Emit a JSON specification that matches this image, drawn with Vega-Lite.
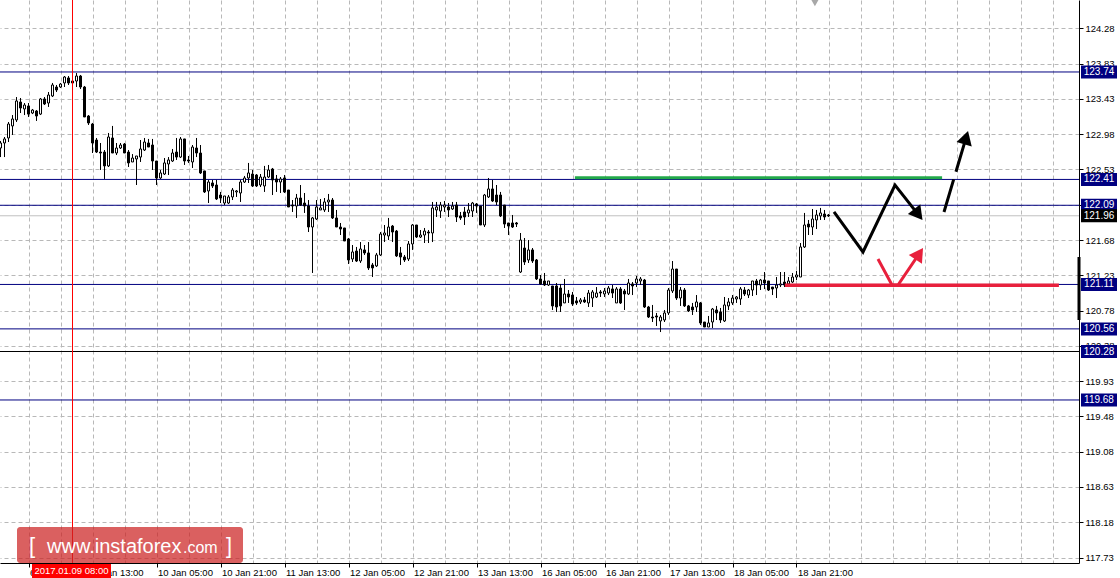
{
"$schema":"https://vega.github.io/schema/vega-lite/v6.json",
"width":1079,"height":563,
"autosize":{"type":"none"},
"padding":{"left":0,"top":0,"right":41,"bottom":15},
"background":"white",
"config":{"font":"Liberation Sans","view":{"stroke":null},"scale":{"continuousPadding":0}},
"datasets":{
"one":[{}],
"candles":[
{"i":0,"o":122.799,"h":122.886,"l":122.687,"c":122.861},
{"i":1,"o":122.861,"h":122.935,"l":122.687,"c":122.911},
{"i":2,"o":122.923,"h":123.121,"l":122.873,"c":123.096},
{"i":3,"o":123.072,"h":123.207,"l":122.960,"c":123.158},
{"i":4,"o":123.146,"h":123.430,"l":123.121,"c":123.381},
{"i":5,"o":123.368,"h":123.418,"l":123.232,"c":123.294},
{"i":6,"o":123.282,"h":123.356,"l":123.207,"c":123.331},
{"i":7,"o":123.319,"h":123.356,"l":123.183,"c":123.219},
{"i":8,"o":123.232,"h":123.282,"l":123.219,"c":123.269},
{"i":9,"o":123.257,"h":123.269,"l":123.134,"c":123.195},
{"i":10,"o":123.219,"h":123.418,"l":123.207,"c":123.406},
{"i":11,"o":123.406,"h":123.430,"l":123.331,"c":123.344},
{"i":12,"o":123.356,"h":123.492,"l":123.307,"c":123.455},
{"i":13,"o":123.443,"h":123.604,"l":123.430,"c":123.579},
{"i":14,"o":123.554,"h":123.579,"l":123.492,"c":123.517},
{"i":15,"o":123.554,"h":123.604,"l":123.542,"c":123.591},
{"i":16,"o":123.604,"h":123.690,"l":123.554,"c":123.678},
{"i":17,"o":123.666,"h":123.690,"l":123.579,"c":123.604},
{"i":18,"o":123.628,"h":123.641,"l":123.591,"c":123.604},
{"i":19,"o":123.628,"h":123.727,"l":123.554,"c":123.690},
{"i":20,"o":123.690,"h":123.703,"l":123.529,"c":123.554},
{"i":21,"o":123.554,"h":123.567,"l":123.183,"c":123.183},
{"i":22,"o":123.195,"h":123.207,"l":123.084,"c":123.109},
{"i":23,"o":123.096,"h":123.109,"l":122.737,"c":122.861},
{"i":24,"o":122.898,"h":122.923,"l":122.737,"c":122.749},
{"i":25,"o":122.749,"h":122.861,"l":122.527,"c":122.737},
{"i":26,"o":122.749,"h":122.774,"l":122.416,"c":122.577},
{"i":27,"o":122.577,"h":122.985,"l":122.564,"c":122.935},
{"i":28,"o":122.923,"h":123.072,"l":122.737,"c":122.737},
{"i":29,"o":122.737,"h":122.861,"l":122.712,"c":122.799},
{"i":30,"o":122.799,"h":122.861,"l":122.787,"c":122.836},
{"i":31,"o":122.848,"h":122.861,"l":122.737,"c":122.737},
{"i":32,"o":122.749,"h":122.774,"l":122.564,"c":122.614},
{"i":33,"o":122.626,"h":122.724,"l":122.626,"c":122.675},
{"i":34,"o":122.663,"h":122.700,"l":122.341,"c":122.700},
{"i":35,"o":122.687,"h":122.898,"l":122.626,"c":122.787},
{"i":36,"o":122.774,"h":122.923,"l":122.762,"c":122.873},
{"i":37,"o":122.861,"h":122.911,"l":122.811,"c":122.811},
{"i":38,"o":122.836,"h":122.911,"l":122.527,"c":122.638},
{"i":39,"o":122.638,"h":122.638,"l":122.341,"c":122.428},
{"i":40,"o":122.428,"h":122.527,"l":122.416,"c":122.490},
{"i":41,"o":122.477,"h":122.675,"l":122.465,"c":122.614},
{"i":42,"o":122.601,"h":122.687,"l":122.465,"c":122.651},
{"i":43,"o":122.638,"h":122.787,"l":122.626,"c":122.737},
{"i":44,"o":122.749,"h":122.923,"l":122.651,"c":122.687},
{"i":45,"o":122.687,"h":122.935,"l":122.675,"c":122.911},
{"i":46,"o":122.911,"h":122.911,"l":122.589,"c":122.638},
{"i":47,"o":122.651,"h":122.700,"l":122.614,"c":122.638},
{"i":48,"o":122.626,"h":122.836,"l":122.552,"c":122.811},
{"i":49,"o":122.799,"h":122.923,"l":122.687,"c":122.737},
{"i":50,"o":122.737,"h":122.836,"l":122.477,"c":122.490},
{"i":51,"o":122.515,"h":122.515,"l":122.242,"c":122.255},
{"i":52,"o":122.267,"h":122.403,"l":122.118,"c":122.378},
{"i":53,"o":122.366,"h":122.403,"l":122.304,"c":122.329},
{"i":54,"o":122.341,"h":122.403,"l":122.155,"c":122.168},
{"i":55,"o":122.217,"h":122.255,"l":122.118,"c":122.180},
{"i":56,"o":122.118,"h":122.205,"l":122.093,"c":122.205},
{"i":57,"o":122.118,"h":122.217,"l":122.106,"c":122.193},
{"i":58,"o":122.193,"h":122.304,"l":122.155,"c":122.279},
{"i":59,"o":122.255,"h":122.279,"l":122.193,"c":122.267},
{"i":60,"o":122.242,"h":122.403,"l":122.131,"c":122.378},
{"i":61,"o":122.378,"h":122.453,"l":122.366,"c":122.428},
{"i":62,"o":122.428,"h":122.614,"l":122.366,"c":122.490},
{"i":63,"o":122.477,"h":122.527,"l":122.316,"c":122.329},
{"i":64,"o":122.465,"h":122.477,"l":122.316,"c":122.329},
{"i":65,"o":122.341,"h":122.477,"l":122.316,"c":122.440},
{"i":66,"o":122.329,"h":122.577,"l":122.255,"c":122.440},
{"i":67,"o":122.440,"h":122.589,"l":122.428,"c":122.527},
{"i":68,"o":122.539,"h":122.552,"l":122.217,"c":122.403},
{"i":69,"o":122.416,"h":122.465,"l":122.255,"c":122.378},
{"i":70,"o":122.378,"h":122.440,"l":122.242,"c":122.416},
{"i":71,"o":122.428,"h":122.465,"l":122.242,"c":122.255},
{"i":72,"o":122.279,"h":122.279,"l":122.069,"c":122.069},
{"i":73,"o":122.093,"h":122.155,"l":122.007,"c":122.081},
{"i":74,"o":122.081,"h":122.230,"l":121.933,"c":122.180},
{"i":75,"o":122.180,"h":122.341,"l":122.081,"c":122.093},
{"i":76,"o":122.118,"h":122.242,"l":121.995,"c":122.081},
{"i":77,"o":122.081,"h":122.155,"l":121.759,"c":121.821},
{"i":78,"o":121.821,"h":121.945,"l":121.252,"c":121.933},
{"i":79,"o":121.920,"h":122.155,"l":121.908,"c":122.069},
{"i":80,"o":122.032,"h":122.168,"l":122.032,"c":122.057},
{"i":81,"o":122.032,"h":122.180,"l":122.007,"c":122.131},
{"i":82,"o":122.131,"h":122.230,"l":122.007,"c":122.155},
{"i":83,"o":122.155,"h":122.180,"l":121.920,"c":121.933},
{"i":84,"o":121.933,"h":122.032,"l":121.821,"c":121.821},
{"i":85,"o":121.821,"h":121.871,"l":121.722,"c":121.796},
{"i":86,"o":121.809,"h":121.809,"l":121.648,"c":121.648},
{"i":87,"o":121.673,"h":121.685,"l":121.363,"c":121.413},
{"i":88,"o":121.425,"h":121.598,"l":121.388,"c":121.512},
{"i":89,"o":121.524,"h":121.574,"l":121.388,"c":121.400},
{"i":90,"o":121.400,"h":121.635,"l":121.376,"c":121.549},
{"i":91,"o":121.537,"h":121.598,"l":121.475,"c":121.500},
{"i":92,"o":121.500,"h":121.635,"l":121.289,"c":121.314},
{"i":93,"o":121.351,"h":121.376,"l":121.202,"c":121.314},
{"i":94,"o":121.339,"h":121.500,"l":121.326,"c":121.475},
{"i":95,"o":121.475,"h":121.759,"l":121.463,"c":121.734},
{"i":96,"o":121.722,"h":121.846,"l":121.635,"c":121.747},
{"i":97,"o":121.710,"h":121.933,"l":121.660,"c":121.821},
{"i":98,"o":121.833,"h":121.846,"l":121.635,"c":121.759},
{"i":99,"o":121.771,"h":121.784,"l":121.450,"c":121.463},
{"i":100,"o":121.500,"h":121.574,"l":121.351,"c":121.450},
{"i":101,"o":121.450,"h":121.475,"l":121.388,"c":121.413},
{"i":102,"o":121.425,"h":121.648,"l":121.400,"c":121.611},
{"i":103,"o":121.611,"h":121.858,"l":121.537,"c":121.846},
{"i":104,"o":121.846,"h":121.846,"l":121.685,"c":121.697},
{"i":105,"o":121.697,"h":121.784,"l":121.685,"c":121.722},
{"i":106,"o":121.722,"h":121.809,"l":121.623,"c":121.771},
{"i":107,"o":121.759,"h":121.784,"l":121.623,"c":121.747},
{"i":108,"o":121.747,"h":122.131,"l":121.635,"c":122.057},
{"i":109,"o":122.032,"h":122.131,"l":121.945,"c":122.069},
{"i":110,"o":122.019,"h":122.131,"l":121.933,"c":122.093},
{"i":111,"o":122.069,"h":122.143,"l":122.007,"c":122.093},
{"i":112,"o":122.069,"h":122.118,"l":121.945,"c":122.032},
{"i":113,"o":122.044,"h":122.131,"l":122.032,"c":122.081},
{"i":114,"o":122.093,"h":122.131,"l":121.883,"c":121.945},
{"i":115,"o":121.958,"h":122.007,"l":121.908,"c":121.933},
{"i":116,"o":122.007,"h":122.069,"l":121.846,"c":121.945},
{"i":117,"o":121.995,"h":122.118,"l":121.945,"c":122.032},
{"i":118,"o":122.019,"h":122.131,"l":121.945,"c":122.118},
{"i":119,"o":122.106,"h":122.118,"l":121.995,"c":122.081},
{"i":120,"o":122.081,"h":122.081,"l":121.846,"c":121.846},
{"i":121,"o":121.846,"h":122.230,"l":121.821,"c":122.217},
{"i":122,"o":122.193,"h":122.428,"l":122.180,"c":122.292},
{"i":123,"o":122.292,"h":122.403,"l":122.131,"c":122.143},
{"i":124,"o":122.217,"h":122.341,"l":122.093,"c":122.131},
{"i":125,"o":122.217,"h":122.255,"l":121.945,"c":121.958},
{"i":126,"o":122.093,"h":122.093,"l":121.809,"c":121.858},
{"i":127,"o":121.871,"h":121.871,"l":121.722,"c":121.833},
{"i":128,"o":121.871,"h":121.970,"l":121.809,"c":121.821},
{"i":129,"o":121.871,"h":121.883,"l":121.821,"c":121.858},
{"i":130,"o":121.264,"h":121.747,"l":121.252,"c":121.660},
{"i":131,"o":121.561,"h":121.685,"l":121.351,"c":121.388},
{"i":132,"o":121.413,"h":121.660,"l":121.376,"c":121.537},
{"i":133,"o":121.537,"h":121.561,"l":121.376,"c":121.400},
{"i":134,"o":121.413,"h":121.425,"l":121.165,"c":121.178},
{"i":135,"o":121.178,"h":121.227,"l":121.103,"c":121.116},
{"i":136,"o":121.153,"h":121.252,"l":121.091,"c":121.103},
{"i":137,"o":121.103,"h":121.153,"l":121.091,"c":121.153},
{"i":138,"o":121.091,"h":121.091,"l":120.794,"c":120.844},
{"i":139,"o":121.091,"h":121.128,"l":120.769,"c":120.831},
{"i":140,"o":121.066,"h":121.116,"l":120.769,"c":120.844},
{"i":141,"o":120.881,"h":121.178,"l":120.881,"c":120.992},
{"i":142,"o":120.992,"h":121.041,"l":120.881,"c":120.955},
{"i":143,"o":120.979,"h":121.017,"l":120.844,"c":120.868},
{"i":144,"o":120.906,"h":120.955,"l":120.856,"c":120.881},
{"i":145,"o":120.893,"h":120.942,"l":120.868,"c":120.918},
{"i":146,"o":120.918,"h":120.955,"l":120.881,"c":120.893},
{"i":147,"o":120.881,"h":121.041,"l":120.831,"c":121.004},
{"i":148,"o":120.942,"h":121.041,"l":120.831,"c":121.017},
{"i":149,"o":120.955,"h":121.078,"l":120.942,"c":121.004},
{"i":150,"o":121.017,"h":121.041,"l":120.955,"c":121.004},
{"i":151,"o":120.992,"h":121.066,"l":120.955,"c":121.029},
{"i":152,"o":121.004,"h":121.091,"l":120.979,"c":121.066},
{"i":153,"o":121.054,"h":121.103,"l":120.942,"c":121.004},
{"i":154,"o":120.881,"h":121.078,"l":120.881,"c":121.054},
{"i":155,"o":121.054,"h":121.078,"l":120.868,"c":120.881},
{"i":156,"o":121.029,"h":121.054,"l":120.794,"c":120.992},
{"i":157,"o":120.992,"h":121.178,"l":120.979,"c":121.128},
{"i":158,"o":121.116,"h":121.140,"l":120.979,"c":121.091},
{"i":159,"o":121.128,"h":121.215,"l":121.078,"c":121.178},
{"i":160,"o":121.153,"h":121.202,"l":121.103,"c":121.178},
{"i":161,"o":121.165,"h":121.178,"l":120.819,"c":120.831},
{"i":162,"o":120.831,"h":120.844,"l":120.695,"c":120.707},
{"i":163,"o":120.707,"h":120.856,"l":120.645,"c":120.695},
{"i":164,"o":120.720,"h":120.757,"l":120.596,"c":120.707},
{"i":165,"o":120.658,"h":120.732,"l":120.521,"c":120.707},
{"i":166,"o":120.670,"h":120.794,"l":120.645,"c":120.757},
{"i":167,"o":120.757,"h":121.066,"l":120.732,"c":121.041},
{"i":168,"o":121.029,"h":121.400,"l":121.004,"c":121.301},
{"i":169,"o":121.301,"h":121.301,"l":120.918,"c":120.942},
{"i":170,"o":120.942,"h":121.078,"l":120.844,"c":121.041},
{"i":171,"o":121.041,"h":121.066,"l":120.831,"c":120.844},
{"i":172,"o":120.844,"h":120.856,"l":120.769,"c":120.782},
{"i":173,"o":120.831,"h":120.881,"l":120.732,"c":120.794},
{"i":174,"o":120.831,"h":120.979,"l":120.769,"c":120.893},
{"i":175,"o":120.881,"h":120.893,"l":120.608,"c":120.633},
{"i":176,"o":120.645,"h":120.645,"l":120.583,"c":120.583},
{"i":177,"o":120.583,"h":120.720,"l":120.583,"c":120.633},
{"i":178,"o":120.645,"h":120.819,"l":120.571,"c":120.806},
{"i":179,"o":120.794,"h":120.844,"l":120.670,"c":120.757},
{"i":180,"o":120.769,"h":120.819,"l":120.633,"c":120.670},
{"i":181,"o":120.658,"h":120.955,"l":120.645,"c":120.856},
{"i":182,"o":120.844,"h":120.942,"l":120.794,"c":120.893},
{"i":183,"o":120.881,"h":120.979,"l":120.856,"c":120.942},
{"i":184,"o":120.930,"h":120.967,"l":120.881,"c":120.955},
{"i":185,"o":120.930,"h":121.078,"l":120.856,"c":121.054},
{"i":186,"o":121.041,"h":121.078,"l":120.967,"c":120.992},
{"i":187,"o":120.979,"h":121.054,"l":120.942,"c":121.041},
{"i":188,"o":121.041,"h":121.153,"l":120.967,"c":121.153},
{"i":189,"o":121.153,"h":121.178,"l":120.979,"c":121.103},
{"i":190,"o":121.103,"h":121.178,"l":121.041,"c":121.165},
{"i":191,"o":121.165,"h":121.264,"l":121.054,"c":121.128},
{"i":192,"o":121.153,"h":121.153,"l":121.029,"c":121.041},
{"i":193,"o":121.078,"h":121.078,"l":120.979,"c":121.054},
{"i":194,"o":121.066,"h":121.202,"l":120.942,"c":121.103},
{"i":195,"o":121.103,"h":121.264,"l":121.078,"c":121.116},
{"i":196,"o":121.140,"h":121.264,"l":121.078,"c":121.103},
{"i":197,"o":121.116,"h":121.202,"l":121.078,"c":121.153},
{"i":198,"o":121.140,"h":121.252,"l":121.128,"c":121.202},
{"i":199,"o":121.202,"h":121.277,"l":121.165,"c":121.227},
{"i":200,"o":121.202,"h":121.623,"l":121.202,"c":121.574},
{"i":201,"o":121.574,"h":121.995,"l":121.561,"c":121.846},
{"i":202,"o":121.858,"h":121.908,"l":121.722,"c":121.821},
{"i":203,"o":121.821,"h":122.044,"l":121.722,"c":121.920},
{"i":204,"o":121.908,"h":122.032,"l":121.796,"c":121.970},
{"i":205,"o":121.958,"h":122.057,"l":121.908,"c":121.995},
{"i":206,"o":121.982,"h":122.032,"l":121.908,"c":121.945},
{"i":207,"o":121.970,"h":121.982,"l":121.945,"c":121.958}
],
"levels":[{"p":123.74},{"p":122.41},{"p":122.09},{"p":121.96},{"p":121.11},{"p":120.56},{"p":120.28},{"p":119.68}],
"green":[{"t":143.6,"p":122.43},{"t":235.4,"p":122.43}],
"red":[{"t":196.1,"p":121.1},{"t":264.6,"p":121.1}],
"zig":[{"t":208.375,"p":122.007},{"t":215.625,"p":121.512},{"t":223.625,"p":122.341},{"t":229.45,"p":121.975}],
"dash":[{"t":235.875,"p":122.007},{"t":241.4,"p":122.928}],
"vee":[{"t":219.375,"p":121.425},{"t":222.875,"p":121.103},{"t":224.375,"p":121.103},{"t":229.675,"p":121.491}]
},
"resolve":{"axis":{"x":"independent","y":"independent"}},
"layer":[
{"data":{"name":"levels"},"mark":{"type":"rule","strokeWidth":1},
 "encoding":{
  "y":{"field":"p","type":"quantitative","scale":{"domain":[117.662,124.631],"nice":false,"zero":false,"padding":0},
   "axis":{"orient":"right","values":[117.73,118.1667,118.6033,119.04,119.4767,119.9133,120.35,120.7867,121.2233,121.66,122.0967,122.5333,122.97,123.4067,123.8433,124.28],
    "labelExpr":"['117.73','118.18','118.63','119.08','119.48','119.93','120.38','120.78','121.23','121.68','122.08','122.53','122.98','123.43','123.83','124.28'][round((datum.value-117.73)/0.436667)]",
    "title":null,"grid":true,"gridColor":"#b8b8b8","gridDash":[4,3],"domainColor":"black","tickColor":"black","tickSize":4,"labelColor":"black","labelFontSize":9.5,"labelPadding":2,"labelOverlap":false,"labelFlush":false,"labelBound":false,"labelBaseline":"middle"}},
  "color":{"condition":[{"test":"datum.p==121.96","value":"#c0c0c0"},{"test":"datum.p==120.28","value":"#000000"}],"value":"#000080"}}},
{"data":{"name":"candles"},"mark":{"type":"rule","color":"black","strokeWidth":1},
 "encoding":{
  "x":{"field":"i","type":"quantitative","scale":{"domain":[-0.125,269.625],"nice":false,"zero":false,"padding":0},
   "axis":{"orient":"bottom","values":[7,15,23,31,39,47,55,63,71,79,87,95,103,111,119,127,135,143,151,159,167,175,183,191,199,207,215,223,231,239,247,255,263],"grid":true,"gridColor":"#b8b8b8","gridDash":[4,3],"labels":false,"ticks":false,"domain":false,"title":null}},
  "y":{"field":"l","type":"quantitative","axis":null},
  "y2":{"field":"h"}}},
{"data":{"name":"candles"},"mark":{"type":"bar","width":2,"strokeWidth":1,"stroke":"black"},
 "encoding":{
  "x":{"field":"i","type":"quantitative",
   "axis":{"orient":"bottom","values":[-9,7,23,39,55,71,87,103,119,135,151,167,183,199],"grid":false,
    "labelExpr":"datum.value < 0 ? '6 Jan 05:00' : ['6 Jan 21:00','9 Jan 13:00','10 Jan 05:00','10 Jan 21:00','11 Jan 13:00','12 Jan 05:00','12 Jan 21:00','13 Jan 13:00','16 Jan 05:00','16 Jan 21:00','17 Jan 13:00','18 Jan 05:00','18 Jan 21:00'][round((datum.value-7)/16)]",
    "labelAlign":"left","labelBaseline":"top","labelPadding":0,"labelOffset":1,"tickSize":4,"tickColor":"black","domainColor":"black","labelColor":"black","labelFontSize":9.5,"title":null,"labelOverlap":false,"labelFlush":false,"labelBound":false}},
  "y":{"field":"o","type":"quantitative","axis":null},
  "y2":{"field":"c"},
  "fill":{"condition":{"test":"datum.c>=datum.o","value":"white"},"value":"black"}}},
{"data":{"name":"green"},"mark":{"type":"line","color":"#22a84a","strokeWidth":3},
 "encoding":{"x":{"field":"t","type":"quantitative","axis":null},"y":{"field":"p","type":"quantitative","axis":null}}},
{"data":{"name":"red"},"mark":{"type":"line","color":"#e8203c","strokeWidth":3.5},
 "encoding":{"x":{"field":"t","type":"quantitative","axis":null},"y":{"field":"p","type":"quantitative","axis":null}}},
{"data":{"name":"zig"},"mark":{"type":"line","color":"black","strokeWidth":3,"strokeJoin":"miter"},
 "encoding":{"x":{"field":"t","type":"quantitative","axis":null},"y":{"field":"p","type":"quantitative","axis":null}}},
{"data":{"name":"dash"},"mark":{"type":"line","color":"black","strokeWidth":3,"strokeDash":[34,8]},
 "encoding":{"x":{"field":"t","type":"quantitative","axis":null},"y":{"field":"p","type":"quantitative","axis":null}}},
{"data":{"name":"vee"},"mark":{"type":"line","color":"#e8203c","strokeWidth":3,"strokeJoin":"miter"},
 "encoding":{"x":{"field":"t","type":"quantitative","axis":null},"y":{"field":"p","type":"quantitative","axis":null}}},
{"data":{"name":"one"},"mark":{"type":"point","shape":"triangle-up","filled":true,"size":250,"angle":142,"opacity":1,"color":"black"},
 "encoding":{"x":{"datum":229.45,"type":"quantitative","axis":null},"y":{"datum":121.975,"type":"quantitative","axis":null}}},
{"data":{"name":"one"},"mark":{"type":"point","shape":"triangle-up","filled":true,"size":250,"angle":16.5,"opacity":1,"color":"black"},
 "encoding":{"x":{"datum":241.4,"type":"quantitative","axis":null},"y":{"datum":122.928,"type":"quantitative","axis":null}}},
{"data":{"name":"one"},"mark":{"type":"point","shape":"triangle-up","filled":true,"size":250,"angle":34,"opacity":1,"color":"#e8203c"},
 "encoding":{"x":{"datum":229.675,"type":"quantitative","axis":null},"y":{"datum":121.491,"type":"quantitative","axis":null}}},
{"data":{"name":"one"},"mark":{"type":"rule","color":"#ff0000","strokeWidth":1},
 "encoding":{"x":{"datum":18,"type":"quantitative","axis":null}}},
{"data":{"name":"one"},"mark":{"type":"rule","color":"black","strokeWidth":3},
 "encoding":{"x":{"datum":269.625,"type":"quantitative","axis":null},"y":{"datum":121.45,"type":"quantitative","axis":null},"y2":{"datum":120.67}}},
{"data":{"name":"one"},"mark":{"type":"point","shape":"triangle-down","filled":true,"size":70,"opacity":1,"color":"#a8a8a8"},
 "encoding":{"x":{"datum":203.6,"type":"quantitative","axis":null},"y":{"datum":124.6,"type":"quantitative","axis":null}}},
{"data":{"name":"levels"},"mark":{"type":"tick","orient":"horizontal","size":36,"thickness":13,"opacity":1,"filled":true},
 "encoding":{"x":{"datum":274.625,"type":"quantitative","axis":null},"y":{"field":"p","type":"quantitative","axis":null},
  "color":{"condition":{"test":"datum.p==121.96","value":"#000000"},"value":"#000080"}}},
{"data":{"name":"levels"},"mark":{"type":"text","color":"white","fontSize":10,"align":"center","baseline":"middle"},
 "encoding":{"x":{"datum":274.625,"type":"quantitative","axis":null},"y":{"field":"p","type":"quantitative","axis":null},"text":{"field":"p","format":".2f"}}},
{"data":{"name":"one"},"mark":{"type":"rect","color":"#ff0000"},
 "encoding":{"x":{"datum":7.875,"type":"quantitative","axis":null},"x2":{"datum":27.625},"y":{"datum":117.650,"type":"quantitative","axis":null},"y2":{"datum":117.476}}},
{"data":{"name":"one"},"mark":{"type":"text","color":"white","fontSize":9.5,"align":"center","baseline":"middle","text":"2017.01.09 08:00"},
 "encoding":{"x":{"datum":17.75,"type":"quantitative","axis":null},"y":{"datum":117.563,"type":"quantitative","axis":null}}},
{"data":{"name":"one"},"mark":{"type":"rect","color":"#cc2222","opacity":0.72,"cornerRadius":3},
 "encoding":{"x":{"datum":4.125,"type":"quantitative","axis":null},"x2":{"datum":60.625},"y":{"datum":118.108,"type":"quantitative","axis":null},"y2":{"datum":117.662}}},
{"data":{"name":"one"},"mark":{"type":"text","color":"white","fontSize":22,"align":"left","baseline":"alphabetic","text":"["},
 "encoding":{"x":{"datum":7.125,"type":"quantitative","axis":null},"y":{"datum":117.786,"type":"quantitative","axis":null}}},
{"data":{"name":"one"},"mark":{"type":"text","color":"white","fontSize":20,"align":"left","baseline":"alphabetic","text":"www.instaforex"},
 "encoding":{"x":{"datum":11.625,"type":"quantitative","axis":null},"y":{"datum":117.786,"type":"quantitative","axis":null}}},
{"data":{"name":"one"},"mark":{"type":"text","color":"white","fontSize":16,"align":"left","baseline":"alphabetic","text":".com"},
 "encoding":{"x":{"datum":45.625,"type":"quantitative","axis":null},"y":{"datum":117.786,"type":"quantitative","axis":null}}},
{"data":{"name":"one"},"mark":{"type":"text","color":"white","fontSize":22,"align":"left","baseline":"alphabetic","text":"]"},
 "encoding":{"x":{"datum":56.375,"type":"quantitative","axis":null},"y":{"datum":117.786,"type":"quantitative","axis":null}}}
]
}
